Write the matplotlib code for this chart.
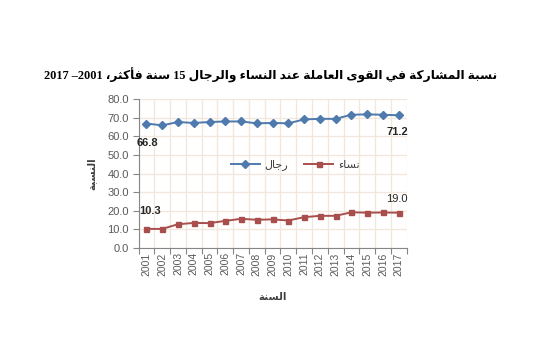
"""
Participation rate in the labour force, men and women aged 15+, 2001-2017.
"""

import matplotlib
matplotlib.use("Agg")
import matplotlib.pyplot as plt

years = [str(y) for y in range(2001, 2018)]
men = [66.8, 65.8, 67.6, 67.1, 67.6, 67.9, 67.9, 66.9, 67.1, 66.9,
       69.0, 69.3, 69.3, 71.5, 71.7, 71.5, 71.2]
women = [10.3, 10.3, 12.8, 13.5, 13.4, 14.6, 15.7, 15.2, 15.4, 14.8,
         16.6, 17.3, 17.3, 19.2, 19.0, 19.1, 19.0]
y_ticks = [0, 10, 20, 30, 40, 50, 60, 70, 80]

title_text = "نسبة المشاركة في القوى العاملة عند النساء والرجال 15 سنة فأكثر، 2001– 2017"
ylabel_text = "النسبة"
xlabel_text = "السنة"
men_label = "رجال"
women_label = "نساء"

# base code point of the isolated form and number of forms (Presentation Forms-B)
ARABIC_FORMS = {
    "ء": (0xFE80, 1), "آ": (0xFE81, 2), "أ": (0xFE83, 2), "ؤ": (0xFE85, 2),
    "إ": (0xFE87, 2), "ئ": (0xFE89, 4), "ا": (0xFE8D, 2), "ب": (0xFE8F, 4),
    "ة": (0xFE93, 2), "ت": (0xFE95, 4), "ث": (0xFE99, 4), "ج": (0xFE9D, 4),
    "ح": (0xFEA1, 4), "خ": (0xFEA5, 4), "د": (0xFEA9, 2), "ذ": (0xFEAB, 2),
    "ر": (0xFEAD, 2), "ز": (0xFEAF, 2), "س": (0xFEB1, 4), "ش": (0xFEB5, 4),
    "ص": (0xFEB9, 4), "ض": (0xFEBD, 4), "ط": (0xFEC1, 4), "ظ": (0xFEC5, 4),
    "ع": (0xFEC9, 4), "غ": (0xFECD, 4), "ف": (0xFED1, 4), "ق": (0xFED5, 4),
    "ك": (0xFED9, 4), "ل": (0xFEDD, 4), "م": (0xFEE1, 4), "ن": (0xFEE5, 4),
    "ه": (0xFEE9, 4), "و": (0xFEED, 2), "ى": (0xFEEF, 2), "ي": (0xFEF1, 4),
}


def shape_arabic(text):
    """Pick contextual letter forms and put the line in visual order."""
    out = []
    for i, ch in enumerate(text):
        if ch not in ARABIC_FORMS:
            out.append(ch)
            continue
        base, n = ARABIC_FORMS[ch]
        prev = text[i - 1] if i > 0 else ""
        nxt = text[i + 1] if i + 1 < len(text) else ""
        join_prev = prev in ARABIC_FORMS and ARABIC_FORMS[prev][1] == 4 and n >= 2
        join_next = n == 4 and nxt in ARABIC_FORMS and ARABIC_FORMS[nxt][1] >= 2
        if join_prev and join_next:
            form = 3
        elif join_prev:
            form = 1
        elif join_next:
            form = 2
        else:
            form = 0
        out.append(chr(base + form))

    # reverse for right-to-left display, keeping digit runs left-to-right
    rev = "".join(out)[::-1]
    result, run = [], []
    for ch in rev:
        if ch.isdigit() or ch == ".":
            run.append(ch)
        else:
            if run:
                result.append("".join(run[::-1]))
                run = []
            result.append(ch)
    if run:
        result.append("".join(run[::-1]))
    return "".join(result)


blue = "#4F7AAD"
red = "#A84F4E"
grid_color = "#F3E6DA"
tick_color = "#5A5A5A"

plt.rcParams["font.family"] = ["Liberation Sans", "DejaVu Sans"]

fig = plt.figure(figsize=(5.35, 3.57), dpi=100)
ax = fig.add_axes([0.259, 0.305, 0.501, 0.418])

x = list(range(len(years)))
ax.plot(x, men, color=blue, marker="D", markersize=3.6, linewidth=1.4,
        label=shape_arabic(men_label))
ax.plot(x, women, color=red, marker="s", markersize=3.6, linewidth=1.4,
        label=shape_arabic(women_label))

ax.set_xlim(-0.5, len(years) - 0.5)
ax.set_yticks(y_ticks)
ax.set_yticklabels([f"{v:.1f}" for v in y_ticks])
ax.set_ylim(0, 80)

ax.set_xticks(x)
ax.set_xticklabels(years, rotation=90)
ax.set_xticks([i - 0.5 for i in range(len(years) + 1)], minor=True)
ax.tick_params(axis="x", which="major", length=0, pad=3,
               labelsize=7.5, labelcolor=tick_color)
ax.tick_params(axis="x", which="minor", length=4, color="#868686", width=0.8)
ax.tick_params(axis="y", length=4, color="#868686", width=0.8,
               labelsize=8, labelcolor=tick_color, pad=3)

ax.grid(True, axis="y", which="major", color=grid_color, linewidth=0.9)
ax.grid(True, axis="x", which="minor", color=grid_color, linewidth=0.9)
ax.set_axisbelow(True)

for side in ["top", "right"]:
    ax.spines[side].set_visible(False)
for side in ["left", "bottom"]:
    ax.spines[side].set_color("#868686")
    ax.spines[side].set_linewidth(0.8)

# end point labels
ax.annotate("66.8", (0, men[0]), xytext=(-7, -16), textcoords="offset points",
            fontsize=8, fontweight="bold", color="#262626", ha="left")
ax.annotate("10.3", (0, women[0]), xytext=(-5, 11), textcoords="offset points",
            fontsize=8, fontweight="bold", color="#262626", ha="left")
ax.annotate("71.2", (16, men[-1]), xytext=(-9, -14), textcoords="offset points",
            fontsize=8, fontweight="bold", color="#262626", ha="left")
ax.annotate("19.0", (16, women[-1]), xytext=(-9, 8), textcoords="offset points",
            fontsize=8, color="#262626", ha="left")

leg = ax.legend(loc="center", bbox_to_anchor=(0.584, 0.557), ncol=2,
                frameon=False, fontsize=8, handlelength=2.6,
                columnspacing=1.5, handletextpad=0.4)
for t in leg.get_texts():
    t.set_color("#404040")

ax.set_ylabel(shape_arabic(ylabel_text), fontsize=7.5, fontweight="bold",
              color="#404040", labelpad=8, family="DejaVu Sans")
ax.set_xlabel(shape_arabic(xlabel_text), fontsize=7.5, fontweight="bold",
              color="#404040", labelpad=12, family="DejaVu Sans")

fig.text(0.505, 0.79, shape_arabic(title_text), ha="center", va="center",
         fontsize=8.8, fontweight="bold",
         family=["Liberation Serif", "DejaVu Sans"])

fig.savefig("out.png", dpi=100, facecolor="white")
